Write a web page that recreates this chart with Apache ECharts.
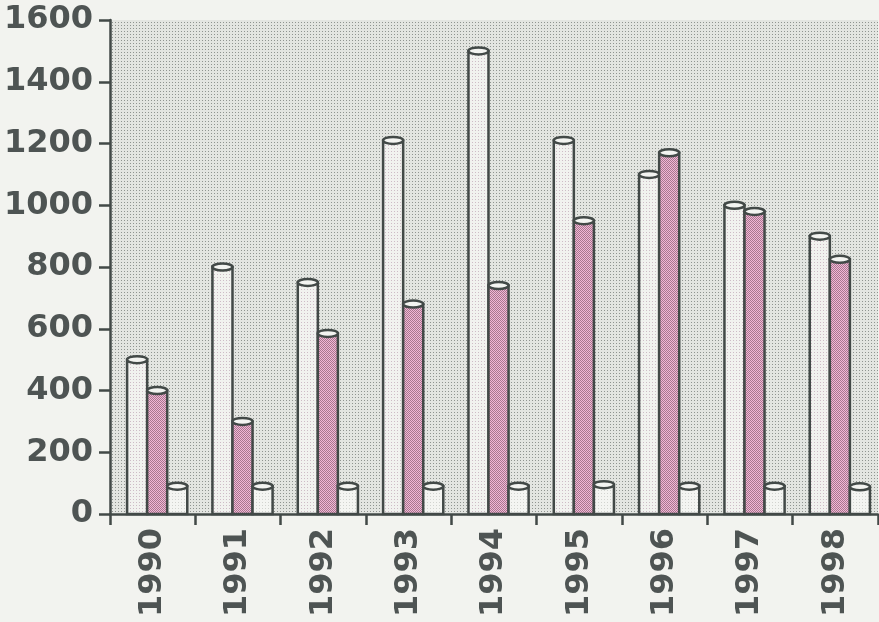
<!DOCTYPE html>
<html>
<head>
<meta charset="utf-8">
<script src="https://cdn.jsdelivr.net/npm/echarts@6/dist/echarts.min.js"></script>
<style>
  html, body { margin: 0; padding: 0; background: #f2f3ef; }
  #chart { width: 879px; height: 622px; }
</style>
</head>
<body>
<div id="chart"></div>
<script>
// Yearly values, three series per year
const years = ['1990', '1991', '1992', '1993', '1994', '1995', '1996', '1997', '1998'];
const seriesA = [500, 800, 750, 1210, 1500, 1210, 1100, 1000, 900];
const seriesB = [400, 300, 585, 680, 740, 950, 1170, 980, 825];
const seriesC = [90, 90, 90, 90, 90, 95, 90, 90, 88];
const yTicks = { min: 0, max: 1600, interval: 200 };

// Small repeating halftone tiles used as fills
function halftone(base, dot, size, cells) {
  const c = document.createElement('canvas');
  c.width = size; c.height = size;
  const g = c.getContext('2d');
  g.fillStyle = base; g.fillRect(0, 0, size, size);
  g.fillStyle = dot;
  cells.forEach(p => g.fillRect(p[0], p[1], 1, 1));
  return { image: c, repeat: 'repeat' };
}

const plotFill = halftone('#e3e5e1', '#8f9490', 3, [[1, 1]]);
const fills = [
  halftone('#f1f2ef', '#cdbcc6', 3, [[1, 1]]),
  halftone('#f2b6d6', '#a8788f', 2, [[0, 0], [1, 1]]),
  halftone('#f4f5f2', '#d2d4d0', 3, [[1, 1]])
];
const edge = '#424947';
const ink = '#4e5453';
const labelFont = { fontFamily: 'DejaVu Sans', fontWeight: 'bold', fontSize: 32, color: ink };

function cylinder(k) {
  return function (params, api) {
    const cat = api.value(0);
    const val = api.value(1);
    const top = api.coord([cat, val]);
    const base = api.coord([cat, 0]);
    const band = api.size([1, 0])[0];
    const w = band * 0.235;
    const cx = top[0] + band * 0.053 + (k - 1) * w;
    return {
      type: 'group',
      children: [
        {
          type: 'rect',
          shape: { x: cx - w / 2, y: top[1], width: w, height: base[1] - top[1] },
          style: { fill: fills[k], stroke: edge, lineWidth: 2.5 }
        },
        {
          type: 'ellipse',
          shape: { cx: cx, cy: top[1], rx: w / 2, ry: 3.5 },
          style: { fill: '#f3f4f1', stroke: edge, lineWidth: 2.5 }
        }
      ]
    };
  };
}

const allSeries = [seriesA, seriesB, seriesC].map((vals, k) => ({
  type: 'custom',
  renderItem: cylinder(k),
  encode: { x: 0, y: 1 },
  data: vals.map((v, i) => [i, v]),
  z: 2 + k
}));

const chart = echarts.init(document.getElementById('chart'), null, { renderer: 'canvas' });
chart.setOption({
  backgroundColor: '#f2f3ef',
  animation: false,
  grid: {
    left: 110, right: 1, top: 20, bottom: 108,
    show: true, backgroundColor: plotFill, borderWidth: 0
  },
  xAxis: {
    type: 'category',
    data: years,
    boundaryGap: true,
    axisLine: { lineStyle: { color: edge, width: 2.5 } },
    axisTick: { show: true, length: 11, lineStyle: { color: edge, width: 2.5 } },
    axisLabel: Object.assign({ rotate: 90, margin: 14 }, labelFont),
    splitLine: { show: false }
  },
  yAxis: {
    type: 'value',
    min: yTicks.min, max: yTicks.max, interval: yTicks.interval,
    axisLine: { show: true, lineStyle: { color: edge, width: 2.5 } },
    axisTick: { show: true, length: 11, lineStyle: { color: edge, width: 2.5 } },
    axisLabel: Object.assign({ margin: 17, formatter: v => String(v) }, labelFont),
    splitLine: { show: false }
  },
  series: allSeries
});
</script>
</body>
</html>
